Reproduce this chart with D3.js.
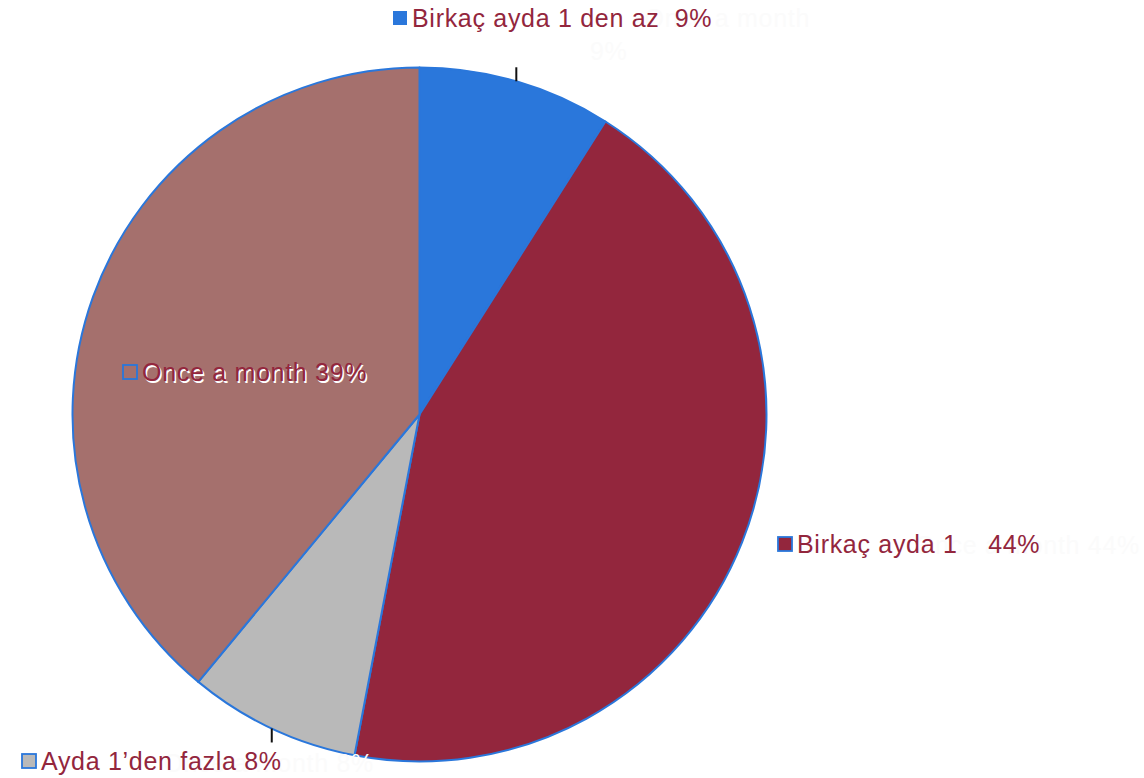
<!DOCTYPE html>
<html>
<head>
<meta charset="utf-8">
<script src="https://cdn.jsdelivr.net/npm/d3@7"></script>
<style>
  html, body { margin: 0; padding: 0; background: #fff; }
  svg { display: block; font-family: "Liberation Sans", Arial, sans-serif; }
  text { white-space: pre; }
</style>
</head>
<body>
<div id="chart"></div>
<script>
// pie: share of visits

const categories = ["Birkaç ayda 1 den az", "Birkaç ayda 1", "Ayda 1’den fazla", "Once a month"];
const values = [9, 44, 8, 39];
const labelTexts = ["Birkaç ayda 1 den az  9%", "Birkaç ayda 1    44%", "Ayda 1’den fazla 8%", "Once a month 39%"];
const ghostTexts = ["Once a month", "9%", "Once a month 44%", "Once a month 8%"];

const colors = ["#2a77db", "#93263d", "#b9b9b9", "#a5706d"];
const textColor = "#93263d";
const edgeColor = "#2a77db";

const width = 1144, height = 778;
const cx = 419.5, cy = 414.5, radius = 347;
const fontSize = 25, spacing = 0.7;

// label anchors: box left edge + text baseline
const labelPos = [
  { x: 392, y: 27 },
  { x: 777, y: 553 },
  { x: 21, y: 770 },
  { x: 122, y: 381 }
];

const svg = d3.select("#chart").append("svg")
  .attr("width", width)
  .attr("height", height);

const g = svg.append("g").attr("transform", "translate(" + cx + "," + cy + ")");

const pie = d3.pie().sort(null).value(d => d.value).startAngle(0).endAngle(2 * Math.PI);
const arc = d3.arc().innerRadius(0).outerRadius(radius);

const data = categories.map((c, i) => ({ name: c, value: values[i], color: colors[i] }));
const arcs = pie(data);

g.selectAll("path.slice")
  .data(arcs)
  .enter().append("path")
  .attr("class", "slice")
  .attr("d", arc)
  .attr("fill", d => d.data.color)
  .attr("stroke", edgeColor)
  .attr("stroke-width", 2)
  .attr("stroke-linejoin", "round");

// small leader ticks on the outer edge
const tickArcs = [arcs[0], arcs[2]];
const tickDirs = [-1, 1];
tickArcs.forEach((a, i) => {
  const mid = (a.startAngle + a.endAngle) / 2;
  const px = Math.sin(mid) * radius;
  const py = -Math.cos(mid) * radius;
  g.append("line")
    .attr("x1", px).attr("x2", px)
    .attr("y1", py).attr("y2", py + tickDirs[i] * 14)
    .attr("stroke", "#111")
    .attr("stroke-width", 2);
});

// faint ghost labels (nearly invisible)
const ghost = svg.append("g")
  .attr("font-size", fontSize)
  .attr("letter-spacing", spacing)
  .attr("fill", "#fbfbfb");
ghost.append("text").attr("x", 810).attr("y", 27).attr("text-anchor", "end").text(ghostTexts[0]);
ghost.append("text").attr("x", 590).attr("y", 60).text(ghostTexts[1]);
ghost.append("text").attr("x", 1140).attr("y", 554).attr("text-anchor", "end").text(ghostTexts[2]);
ghost.append("text").attr("x", 374).attr("y", 772).attr("text-anchor", "end").text(ghostTexts[3]);

// labels
labelPos.forEach((p, i) => {
  const lg = svg.append("g")
    .attr("font-size", fontSize)
    .attr("letter-spacing", spacing);
  lg.append("rect")
    .attr("x", p.x + 1).attr("y", p.y - 16)
    .attr("width", 14).attr("height", 14)
    .attr("fill", i === 3 ? "none" : colors[i])
    .attr("stroke", edgeColor)
    .attr("stroke-width", i === 0 ? 0 : 1.8);
  if (i === 3) {
    // white drop shadow behind text
    lg.append("text")
      .attr("x", p.x + 21.5).attr("y", p.y + 2)
      .attr("fill", "#fff")
      .text(labelTexts[i]);
  }
  lg.append("text")
    .attr("x", p.x + 20).attr("y", p.y)
    .attr("fill", textColor)
    .text(labelTexts[i]);
});
</script>
</body>
</html>
